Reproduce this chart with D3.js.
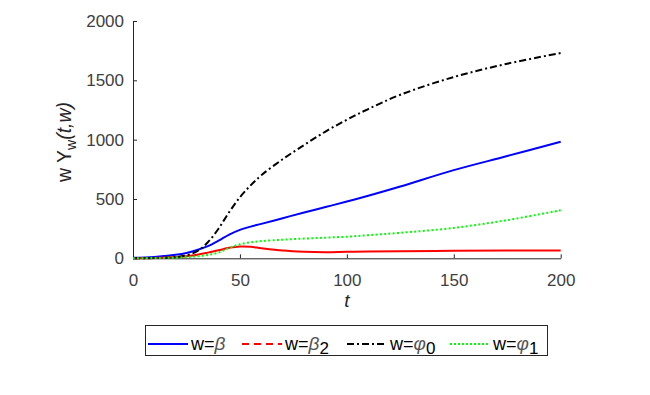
<!DOCTYPE html>
<html>
<head>
<meta charset="utf-8">
<style>
  body { margin: 0; background: #fff; }
  svg { font-family: "Liberation Sans", Arial, Helvetica, sans-serif; }
  .axis text { font-size: 17px; fill: #404040; }
  .axis path, .axis line { stroke: #262626; stroke-width: 1px; }
</style>
</head>
<body>
<script src="https://cdn.jsdelivr.net/npm/d3@7"></script>
<script>
// data
var tVals   = [0, 10, 20, 25, 30, 35, 40, 45, 50, 55, 60, 70, 80, 90, 100, 110, 125, 150, 175, 200];
var beta    = [5, 12, 30, 45, 70, 102, 148, 200, 240, 267, 290, 338, 386, 432, 478, 527, 605, 743, 862, 983];
var beta2   = [0, 3, 10, 18, 30, 48, 68, 88, 100, 97, 85, 65, 55, 52, 55, 57, 60, 63, 65, 66];
var phi0    = [0, 2, 10, 25, 60, 135, 250, 390, 515, 615, 700, 835, 955, 1068, 1168, 1258, 1378, 1528, 1640, 1730];
var phi1    = [0, 2, 6, 10, 16, 28, 48, 88, 118, 135, 145, 157, 166, 174, 182, 195, 215, 256, 322, 405];
var xTicks  = [0, 50, 100, 150, 200];
var yTicks  = [0, 500, 1000, 1500, 2000];

var series = [
  {vals: beta,  color: "#0000ff", dash: null,       legDash: null,        name: "β",  sub: ""},
  {vals: beta2, color: "#ff0000", dash: null,       legDash: "7,5",       name: "β",  sub: "2"},
  {vals: phi0,  color: "#000000", dash: "7,3,2,3",  legDash: "7,3,2,3",   name: "φ",  sub: "0"},
  {vals: phi1,  color: "#00ff00", dash: "2,2.3",    legDash: "2,2",       name: "φ",  sub: "1"}
];

var width = 650, height = 395;
var svg = d3.select("body").append("svg")
    .attr("width", width)
    .attr("height", height);

svg.append("rect").attr("width", width).attr("height", height).attr("fill", "#fff");

var x = d3.scaleLinear().domain([0, 200]).range([133, 560.7]);
var y = d3.scaleLinear().domain([0, 2000]).range([258.3, 21]);

// axes (box off, ticks inside)
var gx = svg.append("g").attr("class", "axis")
    .attr("transform", "translate(0," + y(0) + ")")
    .call(d3.axisBottom(x).tickValues(xTicks).tickFormat(d3.format("d"))
      .tickSizeInner(-4).tickSizeOuter(0).tickPadding(12));
gx.selectAll("text").attr("dy", "0.9em");

var gy = svg.append("g").attr("class", "axis")
    .attr("transform", "translate(" + x(0) + ",0)")
    .call(d3.axisLeft(y).tickValues(yTicks).tickFormat(d3.format("d"))
      .tickSizeInner(-4).tickSizeOuter(0).tickPadding(9));

// lines
var line = d3.line()
    .x(function(d, i) { return x(tVals[i]); })
    .y(function(d) { return y(d); })
    .curve(d3.curveCatmullRom.alpha(0.5));

svg.append("g")
  .selectAll("path")
  .data(series)
  .join("path")
    .attr("fill", "none")
    .attr("stroke", d => d.color)
    .attr("stroke-width", 2)
    .attr("stroke-dasharray", d => d.dash)
    .attr("d", d => line(d.vals));

// axis labels
svg.append("text")
    .attr("x", x(100))
    .attr("y", 307)
    .attr("text-anchor", "middle")
    .attr("font-size", 19)
    .attr("font-style", "italic")
    .attr("fill", "#262626")
    .text("t");

var yl = svg.append("text")
    .attr("transform", "translate(71,142) rotate(-90)")
    .attr("text-anchor", "middle")
    .attr("font-size", 19.5)
    .attr("fill", "#262626");
yl.append("tspan").text("w Y");
yl.append("tspan").attr("font-size", 14).attr("dy", 5).text("w");
yl.append("tspan").attr("dy", -5).attr("font-style", "italic").text("(t,w)");

// legend
var leg = svg.append("g");
leg.append("rect")
    .attr("x", 145.5).attr("y", 325.5)
    .attr("width", 402).attr("height", 30)
    .attr("fill", "#fff")
    .attr("stroke", "#262626")
    .attr("stroke-width", 1);

var legX = [148, 242, 347, 450];
var item = leg.selectAll("g.item")
  .data(series)
  .join("g")
    .attr("class", "item")
    .attr("transform", (d, i) => "translate(" + legX[i] + ",0)");

item.append("line")
    .attr("x1", 0).attr("x2", 40)
    .attr("y1", 344).attr("y2", 344)
    .attr("stroke", d => d.color)
    .attr("stroke-width", 2)
    .attr("stroke-dasharray", d => d.legDash);

var lt = item.append("text")
    .attr("x", 43)
    .attr("y", 350)
    .attr("font-size", 18)
    .attr("fill", "#000");
lt.append("tspan").text("w=");
lt.append("tspan").attr("font-style", "italic").attr("fill", "#555").attr("font-size", 19).text(d => d.name);
lt.append("tspan").attr("dy", 4).attr("font-size", 17).text(d => d.sub);
</script>
</body>
</html>
